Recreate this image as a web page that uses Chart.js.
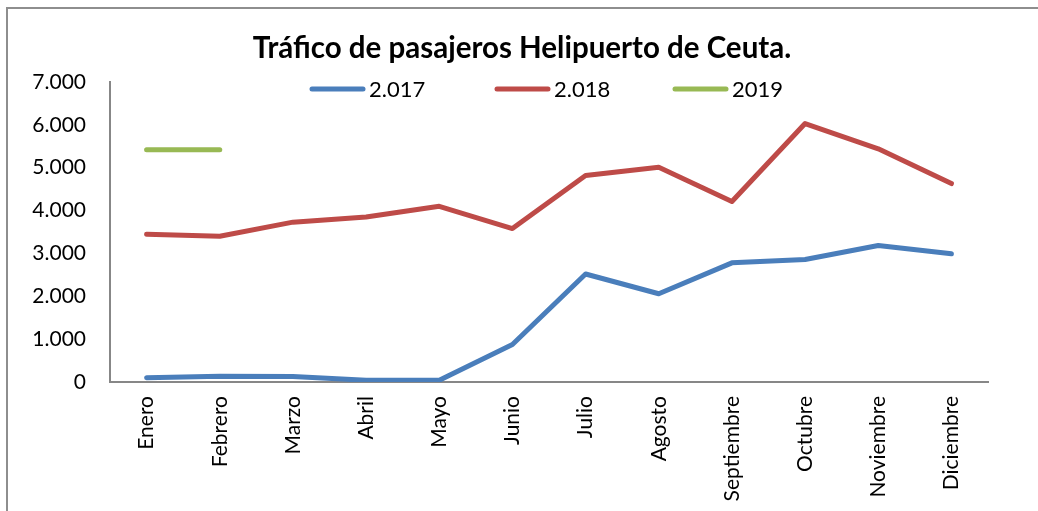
<!DOCTYPE html>
<html>
<head>
<meta charset="utf-8">
<script src="https://cdn.jsdelivr.net/npm/chart.js@4.4.1/dist/chart.umd.min.js"></script>
<style>
  html, body { margin: 0; padding: 0; background: #ffffff; }
  #wrap { position: relative; width: 1038px; height: 511px; }
</style>
</head>
<body>
<div id="wrap"><canvas id="c" width="1038" height="511"></canvas></div>
<script>
const categories = ['Enero', 'Febrero', 'Marzo', 'Abril', 'Mayo', 'Junio', 'Julio', 'Agosto', 'Septiembre', 'Octubre', 'Noviembre', 'Diciembre'];
const seriesNames = ['2.017', '2.018', '2019'];
const pax2017 = [100, 135, 130, 40, 40, 875, 2520, 2060, 2780, 2860, 3185, 2990];
const pax2018 = [3450, 3400, 3730, 3850, 4100, 3580, 4820, 5010, 4210, 6030, 5440, 4630];
const pax2019 = [5420, 5420, null, null, null, null, null, null, null, null, null, null];
const yTickValues = [0, 1000, 2000, 3000, 4000, 5000, 6000, 7000];

const FONT = 'Lato, "Open Sans", sans-serif';

function fmt(v) {
  if (v === 0) return '0';
  return String(v).replace(/\B(?=(\d{3})+(?!\d))/g, '.');
}

const frame = {
  id: 'frame',
  afterLayout(chart) {
    // centre the title on the whole chart frame rather than the padded area
    if (chart.titleBlock) {
      chart.titleBlock.left = 0;
      chart.titleBlock.right = 1044;
    }
  },
  beforeDraw(chart) {
    const ctx = chart.ctx;
    ctx.save();
    ctx.fillStyle = '#ffffff';
    ctx.fillRect(0, 0, chart.width, chart.height);
    ctx.strokeStyle = '#8e8e8e';
    ctx.lineWidth = 2;
    ctx.strokeRect(7, 8, chart.width + 20, chart.height + 20);
    ctx.restore();
  }
};

const lineLegend = {
  id: 'lineLegend',
  afterDraw(chart, args, opts) {
    const ctx = chart.ctx;
    ctx.save();
    ctx.font = opts.font;
    ctx.textBaseline = 'middle';
    ctx.textAlign = 'left';
    chart.data.datasets.forEach((ds, i) => {
      const x = opts.xs[i];
      const y = opts.y;
      ctx.strokeStyle = ds.borderColor;
      ctx.lineWidth = ds.borderWidth;
      ctx.lineCap = 'round';
      ctx.beginPath();
      ctx.moveTo(x + 2, y);
      ctx.lineTo(x + opts.lineLen - 2, y);
      ctx.stroke();
      ctx.fillStyle = '#000000';
      ctx.fillText(ds.label, x + opts.lineLen + opts.gap, y + 1);
    });
    ctx.restore();
  }
};

function mkDataset(label, data, color) {
  return {
    label: label,
    data: data,
    borderColor: color,
    backgroundColor: color,
    borderWidth: 5,
    pointRadius: 0,
    pointHoverRadius: 0,
    tension: 0,
    borderCapStyle: 'round',
    borderJoinStyle: 'round',
    spanGaps: false,
    fill: false
  };
}

new Chart(document.getElementById('c'), {
  type: 'line',
  data: {
    labels: categories,
    datasets: [
      mkDataset(seriesNames[0], pax2017, '#4a7ebb'),
      mkDataset(seriesNames[1], pax2018, '#be4b48'),
      mkDataset(seriesNames[2], pax2019, '#98b954')
    ]
  },
  options: {
    responsive: false,
    animation: false,
    devicePixelRatio: 1,
    layout: { padding: { top: 0, left: 0, right: 50, bottom: 0 } },
    plugins: {
      legend: { display: false },
      tooltip: { enabled: false },
      title: {
        display: true,
        text: 'Tráfico de pasajeros Helipuerto de Ceuta.',
        color: '#000000',
        font: { family: FONT, size: 29.5, weight: 'bold', lineHeight: 1.2 },
        padding: { top: 31, bottom: 15.6 }
      },
      lineLegend: {
        xs: [310, 495, 673],
        y: 89,
        lineLen: 55,
        gap: 4,
        font: '22px ' + FONT
      }
    },
    scales: {
      x: {
        type: 'category',
        offset: true,
        grid: { display: false, drawTicks: false },
        border: { display: true, color: '#878787', width: 2 },
        ticks: {
          color: '#000000',
          font: { family: FONT, size: 21 },
          minRotation: 90,
          maxRotation: 90,
          padding: 14,
          autoSkip: false
        },
        afterFit(scale) { scale.height = 129; }
      },
      y: {
        min: 0,
        max: 7000,
        grid: { display: false, drawTicks: false },
        border: { display: true, color: '#878787', width: 2 },
        afterBuildTicks(scale) { scale.ticks = yTickValues.map(v => ({ value: v })); },
        ticks: {
          color: '#000000',
          font: { family: FONT, size: 21 },
          padding: 24,
          callback: (v) => fmt(v)
        },
        afterFit(scale) { scale.width = 110; }
      }
    }
  },
  plugins: [frame, lineLegend]
});
</script>
</body>
</html>
